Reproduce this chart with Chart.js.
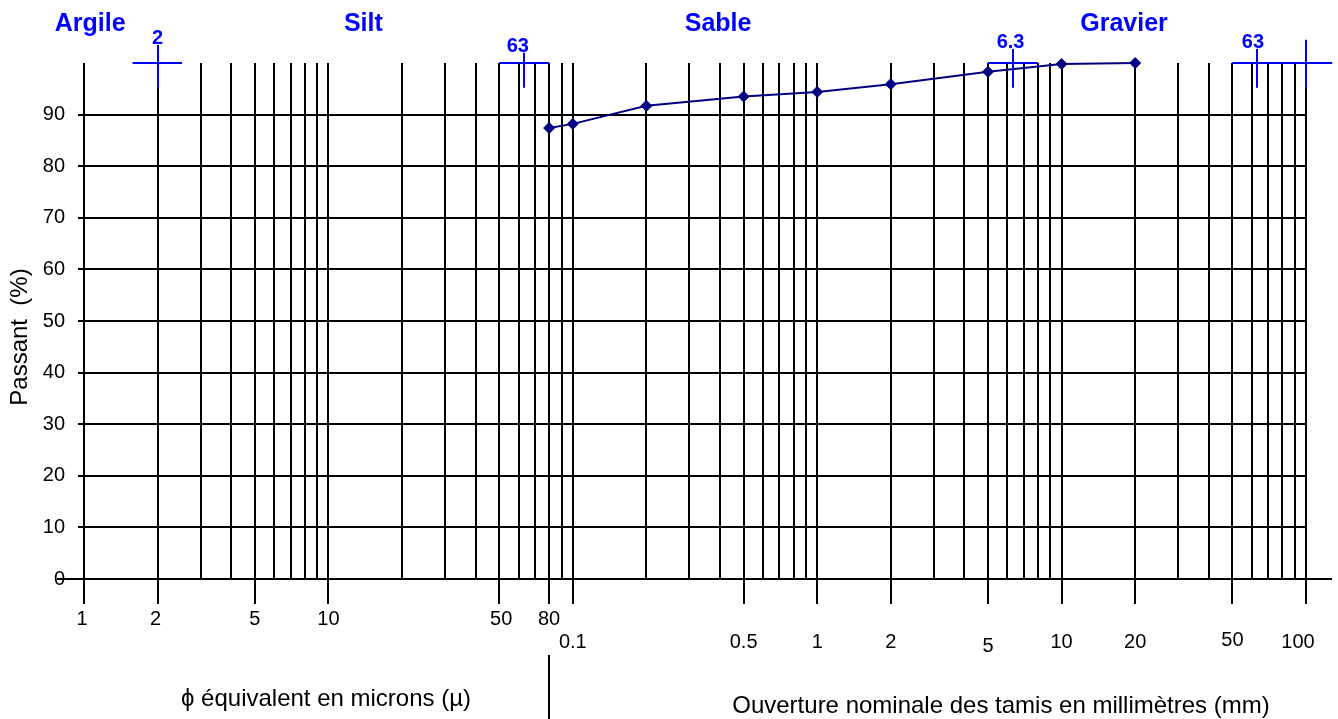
<!DOCTYPE html>
<html lang="fr">
<head>
<meta charset="utf-8">
<title>Courbe granulométrique</title>
<script src="https://cdn.jsdelivr.net/npm/chart.js@4.4.1/dist/chart.umd.min.js"></script>
<style>
  html, body { margin: 0; padding: 0; background: #fff; }
  canvas { display: block; }
</style>
</head>
<body>
<canvas id="chart" width="1338" height="719"></canvas>
<script>
// Sieve openings (mm) and cumulative percent passing
const SIEVE_MM = [0.08, 0.1, 0.2, 0.5, 1, 2, 5, 10, 20];
const PASSING = [87.4, 88.2, 91.7, 93.5, 94.4, 95.9, 98.3, 99.8, 100];

// Bottom axis labels: first row in microns, second row in millimetres
const MICRON_LABELS = [1, 2, 5, 10, 50, 80];
const MM_LABELS = [0.1, 0.5, 1, 2, 5, 10, 20, 50, 100];
const Y_TICKS = [0, 10, 20, 30, 40, 50, 60, 70, 80, 90];

// Soil classes and the class limits marked along the top edge
const CLASS_NAMES = ['Argile', 'Silt', 'Sable', 'Gravier'];
const LIMIT_MM = [0.002, 0.063, 6.3, 63];
const LIMIT_TEXT = ['2', '63', '6.3', '63'];

// ---- styling / placement ----
const FONT = "'Liberation Sans', Arial, Helvetica, sans-serif";
const BLUE = '#0000ff';
const NAVY = '#000080';
const CLASS_ANCHOR_MM = [0.00106, 0.0139, 0.393, 18];
const LIMIT_SPAN_MM = [[0.00158, 0.00252], [0.05, 0.08], [5, 8], [50, 128]];
const LIMIT_TOP = [103.5, 102, 102.7, 102.7];
const LIMIT_BOTTOM = 95.2;
const LIMIT_TEXT_DX = [0, -6, -2, -4];
const EDGE_MARK_MM = 100, EDGE_MARK_TOP = 104.5;
const MICRON_DX = { 1: -2, 2: -2, 50: 2 };
const MM_DX = { 100: -8 };
const MM_DY = { 5: 4, 50: -2 };

// full logarithmic grid, 1 µm .. 100 mm
const GRID_MM = [];
for (let e = -3; e <= 1; e++) {
  for (let m = 1; m <= 9; m++) GRID_MM.push(+(m * Math.pow(10, e)).toPrecision(6));
}
GRID_MM.push(100);

const LABELLED_MM = MICRON_LABELS.map(v => v / 1000).concat(MM_LABELS);
const isLabelled = v => LABELLED_MM.some(l => Math.abs(Math.log10(l) - Math.log10(v)) < 1e-6);

const decor = {
  id: 'decor',
  beforeDatasetsDraw(chart) {
    const { ctx, scales: { x, y } } = chart;
    ctx.save();
    // zero line runs a little past both ends of the grid
    ctx.strokeStyle = '#000';
    ctx.lineWidth = 2;
    const y0 = Math.round(y.getPixelForValue(0));
    ctx.beginPath();
    ctx.moveTo(57, y0); ctx.lineTo(chart.chartArea.left, y0);
    ctx.moveTo(chart.chartArea.right, y0); ctx.lineTo(1332, y0);
    ctx.stroke();

    // class limit crosses
    ctx.strokeStyle = BLUE;
    ctx.lineWidth = 2;
    const yTop = y.getPixelForValue(100);
    LIMIT_MM.forEach((v, i) => {
      const px = Math.round(x.getPixelForValue(v));
      ctx.beginPath();
      ctx.moveTo(x.getPixelForValue(LIMIT_SPAN_MM[i][0]), yTop);
      ctx.lineTo(x.getPixelForValue(LIMIT_SPAN_MM[i][1]), yTop);
      ctx.moveTo(px, y.getPixelForValue(LIMIT_TOP[i]));
      ctx.lineTo(px, y.getPixelForValue(LIMIT_BOTTOM));
      ctx.stroke();
    });
    const pe = Math.round(x.getPixelForValue(EDGE_MARK_MM));
    ctx.beginPath();
    ctx.moveTo(pe, y.getPixelForValue(EDGE_MARK_TOP));
    ctx.lineTo(pe, y.getPixelForValue(LIMIT_BOTTOM));
    ctx.stroke();
    ctx.restore();
  },
  afterDraw(chart) {
    const { ctx, scales: { x, y } } = chart;
    ctx.save();

    // class names
    ctx.fillStyle = BLUE;
    ctx.font = `bold 25px ${FONT}`;
    ctx.textAlign = 'center';
    ctx.textBaseline = 'alphabetic';
    CLASS_NAMES.forEach((n, i) => ctx.fillText(n, x.getPixelForValue(CLASS_ANCHOR_MM[i]), 31));

    // limit values
    ctx.font = `bold 20px ${FONT}`;
    LIMIT_MM.forEach((v, i) => {
      ctx.fillText(LIMIT_TEXT[i], x.getPixelForValue(v) + LIMIT_TEXT_DX[i], y.getPixelForValue(LIMIT_TOP[i]) - 1);
    });

    // bottom axis labels
    ctx.fillStyle = '#000';
    ctx.font = `20px ${FONT}`;
    ctx.textBaseline = 'middle';
    MICRON_LABELS.forEach(v => {
      ctx.fillText(String(v), x.getPixelForValue(v / 1000) + (MICRON_DX[v] || 0), 619);
    });
    MM_LABELS.forEach(v => {
      ctx.fillText(String(v), x.getPixelForValue(v) + (MM_DX[v] || 0), 642 + (MM_DY[v] || 0));
    });

    // separator between the two unit systems
    const sx = Math.round(x.getPixelForValue(0.08));
    ctx.strokeStyle = '#000';
    ctx.lineWidth = 2;
    ctx.beginPath();
    ctx.moveTo(sx, 655); ctx.lineTo(sx, 719);
    ctx.stroke();

    // axis titles
    ctx.font = `24px ${FONT}`;
    ctx.textBaseline = 'alphabetic';
    ctx.fillText('\u03D5 équivalent en microns (µ)', 326, 706);
    ctx.fillText('Ouverture nominale des tamis en millimètres (mm)', 1001, 713);

    ctx.translate(20, 337);
    ctx.rotate(-Math.PI / 2);
    ctx.textBaseline = 'middle';
    ctx.fillText('Passant  (%)', 0, 0);
    ctx.restore();
  }
};

new Chart(document.getElementById('chart'), {
  type: 'line',
  data: {
    datasets: [{
      data: SIEVE_MM.map((v, i) => ({ x: v, y: PASSING[i] })),
      borderColor: NAVY,
      backgroundColor: NAVY,
      borderWidth: 2,
      pointStyle: 'rectRot',
      pointRadius: 5.5,
      pointBackgroundColor: NAVY,
      pointBorderColor: NAVY,
      pointBorderWidth: 1,
      tension: 0,
      fill: false,
      clip: false
    }]
  },
  options: {
    responsive: false,
    animation: false,
    devicePixelRatio: 1,
    events: [],
    layout: { padding: { left: 0, top: 63, right: 32, bottom: 0 } },
    plugins: { legend: { display: false }, tooltip: { enabled: false } },
    scales: {
      x: {
        type: 'logarithmic',
        min: 0.001,
        max: 100,
        position: 'bottom',
        afterBuildTicks: s => { s.ticks = GRID_MM.map(v => ({ value: v })); },
        afterFit: s => { s.height = 140; },
        ticks: { display: false },
        border: { display: false },
        grid: {
          color: '#000',
          lineWidth: 2,
          drawTicks: true,
          tickLength: 25,
          tickWidth: 2,
          tickColor: c => (c.tick && isLabelled(c.tick.value)) ? '#000' : 'rgba(0,0,0,0)'
        }
      },
      y: {
        type: 'linear',
        min: 0,
        max: 100,
        afterBuildTicks: s => { s.ticks = Y_TICKS.map(v => ({ value: v })); },
        afterFit: s => { s.width = 84; },
        ticks: {
          padding: 13,
          color: '#000',
          font: { family: FONT, size: 20 },
          callback: v => String(v)
        },
        border: { display: false },
        grid: { color: '#000', lineWidth: 2, tickLength: 6, tickWidth: 2, tickColor: '#000' }
      }
    }
  },
  plugins: [decor]
});
</script>
</body>
</html>
